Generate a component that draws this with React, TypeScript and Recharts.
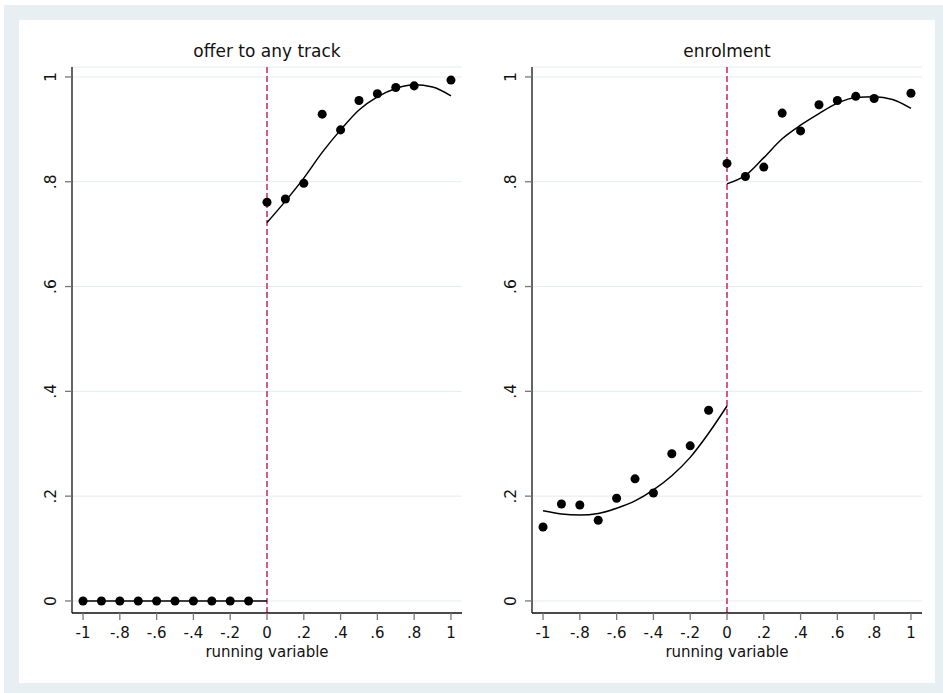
import React from "react";
import {
  ComposedChart,
  Scatter,
  Line,
  XAxis,
  YAxis,
  CartesianGrid,
  ReferenceLine,
} from "recharts";

const xTicks = [-1, -0.8, -0.6, -0.4, -0.2, 0, 0.2, 0.4, 0.6, 0.8, 1];
const xTickLabels = ["-1", "-.8", "-.6", "-.4", "-.2", "0", ".2", ".4", ".6", ".8", "1"];
const yTicks = [0, 0.2, 0.4, 0.6, 0.8, 1];
const yTickLabels = ["0", ".2", ".4", ".6", ".8", "1"];

// bin centres
const binsBelow = [-1, -0.9, -0.8, -0.7, -0.6, -0.5, -0.4, -0.3, -0.2, -0.1];
const binsAbove = [0, 0.1, 0.2, 0.3, 0.4, 0.5, 0.6, 0.7, 0.8, 1];
const fitBelowX = [-1, -0.9, -0.8, -0.7, -0.6, -0.5, -0.4, -0.3, -0.2, -0.1, 0];
const fitAboveX = [0, 0.1, 0.2, 0.3, 0.4, 0.5, 0.6, 0.7, 0.8, 0.9, 1];

// offer to any track
const offerBelow = [0, 0, 0, 0, 0, 0, 0, 0, 0, 0];
const offerAbove = [0.761, 0.767, 0.797, 0.929, 0.899, 0.955, 0.968, 0.98, 0.983, 0.994];
const offerFitBelow = [0, 0, 0, 0, 0, 0, 0, 0, 0, 0, 0];
const offerFitAbove = [0.722, 0.763, 0.807, 0.856, 0.899, 0.937, 0.962, 0.978, 0.985, 0.981, 0.964];

// enrolment
const enrolBelow = [0.141, 0.185, 0.183, 0.154, 0.196, 0.233, 0.206, 0.281, 0.296, 0.364];
const enrolAbove = [0.835, 0.81, 0.828, 0.931, 0.897, 0.947, 0.955, 0.963, 0.959, 0.969];
const enrolFitBelow = [0.172, 0.166, 0.164, 0.167, 0.177, 0.191, 0.212, 0.239, 0.274, 0.32, 0.372];
const enrolFitAbove = [0.796, 0.812, 0.846, 0.882, 0.908, 0.93, 0.95, 0.961, 0.962, 0.957, 0.94];

const FONT = "DejaVu Sans";
const W = 480;
const H = 693;

const zip = (xs: number[], ys: number[]) => xs.map((x, i) => ({ x, y: ys[i] }));

const labelFor = (ticks: number[], labels: string[], v: number) => {
  const i = ticks.findIndex((t) => Math.abs(t - v) < 1e-6);
  return i >= 0 ? labels[i] : "";
};

const XTick = (props: any) => {
  const { x, y, payload } = props;
  return (
    <text x={x} y={y + 16} textAnchor="middle" fontFamily={FONT} fontSize={15} fill="#111">
      {labelFor(xTicks, xTickLabels, payload.value)}
    </text>
  );
};

const YTick = (props: any) => {
  const { x, y, payload } = props;
  const bx = x - 7;
  return (
    <text
      x={bx}
      y={y}
      transform={`rotate(-90 ${bx} ${y})`}
      textAnchor="middle"
      fontFamily={FONT}
      fontSize={15.5}
      fill="#111"
    >
      {labelFor(yTicks, yTickLabels, payload.value)}
    </text>
  );
};

function Panel({
  title,
  below,
  above,
  fitBelow,
  fitAbove,
  left,
}: {
  title: string;
  below: number[];
  above: number[];
  fitBelow: number[];
  fitAbove: number[];
  left: number;
}) {
  return (
    <div style={{ position: "absolute", left, top: 0, width: W, height: H }}>
      <ComposedChart width={W} height={H} margin={{ top: 67, right: 18, bottom: 40, left: 32 }}>
        <CartesianGrid horizontal vertical={false} stroke="#e4ecee" strokeWidth={1} />
        <XAxis
          type="number"
          dataKey="x"
          domain={[-1.06, 1.06]}
          ticks={xTicks}
          interval={0}
          height={40}
          allowDataOverflow
          axisLine={{ stroke: "#111", strokeWidth: 1.3 }}
          tickLine={{ stroke: "#777", strokeWidth: 1.3 }}
          tickSize={7}
          tick={XTick}
        />
        <YAxis
          type="number"
          dataKey="y"
          domain={[-0.023, 1.019]}
          ticks={yTicks}
          interval={0}
          width={40}
          allowDataOverflow
          axisLine={{ stroke: "#111", strokeWidth: 1.3 }}
          tickLine={{ stroke: "#777", strokeWidth: 1.3 }}
          tickSize={7}
          tick={YTick}
        />
        <ReferenceLine x={0} stroke="#cc3360" strokeWidth={1.6} strokeDasharray="6 3" />
        <Line
          data={zip(fitBelowX, fitBelow)}
          dataKey="y"
          type="monotone"
          stroke="#000"
          strokeWidth={1.5}
          dot={false}
          isAnimationActive={false}
        />
        <Line
          data={zip(fitAboveX, fitAbove)}
          dataKey="y"
          type="monotone"
          stroke="#000"
          strokeWidth={1.5}
          dot={false}
          isAnimationActive={false}
        />
        <Scatter data={zip(binsBelow, below)} fill="#000" isAnimationActive={false} />
        <Scatter data={zip(binsAbove, above)} fill="#000" isAnimationActive={false} />
      </ComposedChart>
      <svg
        width={W}
        height={H}
        style={{ position: "absolute", left: 0, top: 0, pointerEvents: "none" }}
      >
        <text x={267} y={57} textAnchor="middle" fontFamily={FONT} fontSize={17} fill="#111">
          {title}
        </text>
        <text x={267} y={657} textAnchor="middle" fontFamily={FONT} fontSize={15} fill="#111">
          running variable
        </text>
      </svg>
    </div>
  );
}

export default function App() {
  return (
    <div style={{ position: "absolute", left: 0, top: 0, width: 943, height: 693, background: "#fff" }}>
      <div
        style={{
          position: "absolute",
          left: 4,
          top: 5,
          width: 939,
          height: 688,
          background: "#e8eff2",
        }}
      />
      <div
        style={{
          position: "absolute",
          left: 19,
          top: 20,
          width: 916,
          height: 663,
          background: "#fff",
        }}
      />
      <Panel
        title="offer to any track"
        below={offerBelow}
        above={offerAbove}
        fitBelow={offerFitBelow}
        fitAbove={offerFitAbove}
        left={0}
      />
      <Panel
        title="enrolment"
        below={enrolBelow}
        above={enrolAbove}
        fitBelow={enrolFitBelow}
        fitAbove={enrolFitAbove}
        left={460}
      />
    </div>
  );
}
